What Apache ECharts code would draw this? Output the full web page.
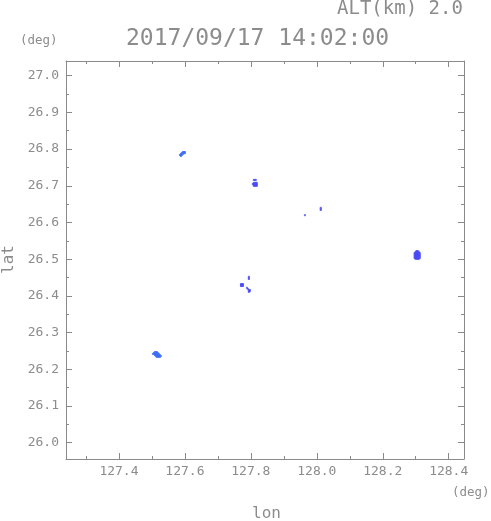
<!DOCTYPE html>
<html>
<head>
<meta charset="utf-8">
<script src="https://cdn.jsdelivr.net/npm/echarts@6/dist/echarts.min.js"></script>
<style>html,body{margin:0;padding:0;background:#fff}#c{width:491px;height:521px}</style>
</head>
<body>
<div id="c"></div>
<script>
const titleText = '2017/09/17 14:02:00';
const altText = 'ALT(km) 2.0';
const lonRange = [127.2394, 128.4464];
const latRange = [25.9556, 27.040];
const lonTicks = [127.4, 127.6, 127.8, 128.0, 128.2, 128.4];
const lonMinorTicks = [127.3, 127.5, 127.7, 127.9, 128.1, 128.3];
const latTicks = [26.0, 26.1, 26.2, 26.3, 26.4, 26.5, 26.6, 26.7, 26.8, 26.9, 27.0];
const latMinorTicks = [26.05, 26.15, 26.25, 26.35, 26.45, 26.55, 26.65, 26.75, 26.85, 26.95];

// echo cells, lighter blue
const echoLight = [
  [127.594,26.792],[127.597,26.792],[127.600,26.792],
  [127.591,26.789],[127.594,26.789],[127.597,26.789],[127.600,26.789],
  [127.588,26.787],[127.591,26.787],[127.594,26.787],
  [127.585,26.784],[127.588,26.784],[127.591,26.784],
  [127.588,26.781],
  [127.509,26.247],[127.512,26.247],[127.515,26.247],
  [127.506,26.244],[127.509,26.244],[127.512,26.244],[127.515,26.244],[127.518,26.244],
  [127.503,26.242],[127.506,26.242],[127.509,26.242],[127.512,26.242],[127.515,26.242],[127.518,26.242],[127.521,26.242],
  [127.509,26.239],[127.512,26.239],[127.515,26.239],[127.518,26.239],[127.521,26.239],[127.524,26.239],
  [127.512,26.236],[127.515,26.236],[127.518,26.236],[127.521,26.236],[127.524,26.236],[127.527,26.236],
  [127.515,26.234],[127.518,26.234],[127.521,26.234],[127.524,26.234]
];
// echo cells, deeper blue
const echoDeep = [
  [127.809,26.716],[127.812,26.716],[127.815,26.716],
  [127.809,26.708],[127.812,26.708],[127.815,26.708],[127.818,26.708],
  [127.806,26.705],[127.809,26.705],[127.812,26.705],[127.815,26.705],[127.818,26.705],
  [127.809,26.702],[127.812,26.702],[127.815,26.702],[127.818,26.702],
  [127.809,26.700],[127.812,26.700],[127.815,26.700],[127.818,26.700],
  [127.770,26.432],[127.773,26.432],[127.776,26.432],
  [127.770,26.430],[127.773,26.430],[127.776,26.430],
  [127.770,26.427],[127.773,26.427],[127.776,26.427],
  [127.794,26.452],[127.794,26.449],[127.794,26.446],
  [127.788,26.422],[127.791,26.419],[127.794,26.416],[127.797,26.416],
  [127.794,26.413],[127.797,26.413],[127.794,26.411],
  [127.964,26.620],[128.012,26.640],[128.012,26.637],[128.012,26.634],
  [128.303,26.522],[128.306,26.522],
  [128.300,26.520],[128.303,26.520],[128.306,26.520],[128.309,26.520],
  [128.297,26.517],[128.300,26.517],[128.303,26.517],[128.306,26.517],[128.309,26.517],[128.312,26.517],
  [128.297,26.514],[128.300,26.514],[128.303,26.514],[128.306,26.514],[128.309,26.514],[128.312,26.514],
  [128.297,26.511],[128.300,26.511],[128.303,26.511],[128.306,26.511],[128.309,26.511],[128.312,26.511],
  [128.297,26.509],[128.300,26.509],[128.303,26.509],[128.306,26.509],[128.309,26.509],[128.312,26.509],
  [128.297,26.506],[128.300,26.506],[128.303,26.506],[128.306,26.506],[128.309,26.506],[128.312,26.506],
  [128.297,26.503],[128.300,26.503],[128.303,26.503],[128.306,26.503],[128.309,26.503],[128.312,26.503],
  [128.300,26.501],[128.303,26.501],[128.306,26.501],[128.309,26.501]
];

const AX = '#8a8a8a';
const TXT = '#8c8c8c';
const FONT = '"DejaVu Sans Mono", monospace';

function xAx(pos, ticks, len, main) {
  return {
    type: 'value', position: pos, min: lonRange[0], max: lonRange[1],
    axisLine: { show: main, onZero: false, lineStyle: { color: AX, width: 1 } },
    axisTick: { show: true, inside: true, length: len, customValues: ticks, lineStyle: { color: AX } },
    axisLabel: { show: main && pos === 'bottom', customValues: ticks, margin: 6,
      formatter: v => v.toFixed(1), color: TXT, fontFamily: FONT, fontSize: 13 },
    splitLine: { show: false }
  };
}
function yAx(pos, ticks, len, main) {
  return {
    type: 'value', position: pos, min: latRange[0], max: latRange[1],
    axisLine: { show: main, onZero: false, lineStyle: { color: AX, width: 1 } },
    axisTick: { show: true, inside: true, length: len, customValues: ticks, lineStyle: { color: AX } },
    axisLabel: { show: main && pos === 'left', customValues: ticks, margin: 7,
      formatter: v => v.toFixed(1), color: TXT, fontFamily: FONT, fontSize: 13 },
    splitLine: { show: false }
  };
}

const chart = echarts.init(document.getElementById('c'), null, { renderer: 'canvas' });
chart.setOption({
  animation: false,
  backgroundColor: '#fff',
  grid: { left: 66, top: 61, width: 398, height: 398, containLabel: false },
  xAxis: [
    xAx('bottom', lonTicks, 6, true),
    xAx('bottom', lonMinorTicks, 3, false),
    xAx('top', lonTicks, 6, true),
    xAx('top', lonMinorTicks, 3, false)
  ],
  yAxis: [
    yAx('left', latTicks, 6, true),
    yAx('left', latMinorTicks, 3, false),
    yAx('right', latTicks, 6, true),
    yAx('right', latMinorTicks, 3, false)
  ],
  graphic: [
    { type: 'text', left: 337, top: 0, style: { text: altText, font: '19px ' + FONT, fill: TXT } },
    { type: 'text', left: 126, top: 28, style: { text: titleText, font: '23px ' + FONT, fill: TXT } },
    { type: 'text', left: 20, top: 34, style: { text: '(deg)', font: '12.5px ' + FONT, fill: TXT } },
    { type: 'text', left: 452, top: 486, style: { text: '(deg)', font: '12.5px ' + FONT, fill: TXT } },
    { type: 'text', left: 252, top: 506, style: { text: 'lon', font: '16px ' + FONT, fill: TXT } },
    { type: 'text', x: 1, y: 274, rotation: Math.PI / 2, style: { text: 'lat', font: '16px ' + FONT, fill: TXT } }
  ],
  series: [
    { type: 'scatter', xAxisIndex: 0, yAxisIndex: 0, data: echoLight, symbol: 'rect', symbolSize: 2,
      itemStyle: { color: '#3f6ef2' }, silent: true },
    { type: 'scatter', xAxisIndex: 0, yAxisIndex: 0, data: echoDeep, symbol: 'rect', symbolSize: 2,
      itemStyle: { color: '#4a4cf5' }, silent: true }
  ]
});
</script>
</body>
</html>
